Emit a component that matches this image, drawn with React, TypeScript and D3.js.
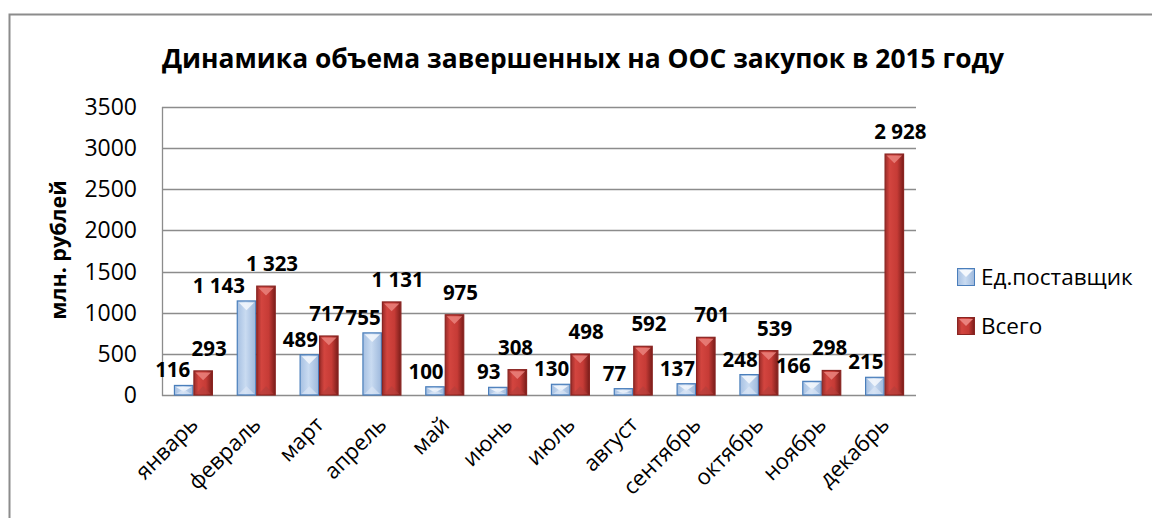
import * as d3 from 'd3';
import React, {useEffect} from 'react';

const months = ['январь', 'февраль', 'март', 'апрель', 'май', 'июнь', 'июль', 'август', 'сентябрь', 'октябрь', 'ноябрь', 'декабрь'];
const seriesNames = ['Ед.поставщик', 'Всего'];
const singleSupplier = [116, 1143, 489, 755, 100, 93, 130, 77, 137, 248, 166, 215];
const total = [293, 1323, 717, 1131, 975, 308, 498, 592, 701, 539, 298, 2928];
const yTicks = [0, 500, 1000, 1500, 2000, 2500, 3000, 3500];

const FONT = "'Open Sans', 'Noto Sans', sans-serif";

export default function App() {
  const chartRef = React.useRef<SVGSVGElement>(null);

  useEffect(() => {
    drawChart();
  }, []);

  function drawChart() {
    const svg = d3.select(chartRef.current);
    svg.selectAll('*').remove();

    const plot = {left: 162, right: 916, top: 107, bottom: 395};

    // gradients for the bevelled bars
    const defs = svg.append('defs');
    const blueGrad = defs.append('linearGradient').attr('id', 'gBlue').attr('x1', 0).attr('x2', 1).attr('y1', 0).attr('y2', 0);
    [['0%', '#a6c0e2'], ['45%', '#c9dbf1'], ['100%', '#9db8dc']].forEach(([o, c]) =>
      blueGrad.append('stop').attr('offset', o).attr('stop-color', c));
    const redGrad = defs.append('linearGradient').attr('id', 'gRed').attr('x1', 0).attr('x2', 1).attr('y1', 0).attr('y2', 0);
    [['0%', '#9a2c29'], ['25%', '#d3453f'], ['65%', '#c63b36'], ['100%', '#7a1d1a']].forEach(([o, c]) =>
      redGrad.append('stop').attr('offset', o).attr('stop-color', c));

    // outer frame
    svg.append('rect')
      .attr('x', 9.5).attr('y', 14.5)
      .attr('width', 1160).attr('height', 520)
      .attr('fill', 'white')
      .attr('stroke', '#8c8c8c')
      .attr('stroke-width', 2);

    // title
    svg.append('text')
      .attr('x', 583).attr('y', 68)
      .attr('text-anchor', 'middle')
      .style('font-family', FONT)
      .style('font-weight', 'bold')
      .style('font-size', '26.4px')
      .text('Динамика объема завершенных на ООС закупок в 2015 году');

    const y = d3.scaleLinear().domain([0, 3500]).range([plot.bottom, plot.top]);
    const x0 = d3.scaleBand().domain(months).range([plot.left, plot.right]).paddingInner(0.38).paddingOuter(0.19);
    const x1 = d3.scaleBand().domain(seriesNames).range([0, x0.bandwidth()]);

    // gridlines
    svg.append('g')
      .selectAll('line')
      .data(yTicks)
      .enter()
      .append('line')
      .attr('x1', plot.left).attr('x2', plot.right)
      .attr('y1', (d) => Math.round(y(d)) + 0.5).attr('y2', (d) => Math.round(y(d)) + 0.5)
      .attr('stroke', '#8c8c8c')
      .attr('stroke-width', 1.3);

    // y axis line
    svg.append('line')
      .attr('x1', plot.left + 0.5).attr('x2', plot.left + 0.5)
      .attr('y1', plot.top).attr('y2', plot.bottom + 1)
      .attr('stroke', '#8c8c8c').attr('stroke-width', 1.3);

    // y tick labels
    svg.append('g')
      .selectAll('text')
      .data(yTicks)
      .enter()
      .append('text')
      .attr('x', 137).attr('y', (d) => y(d) + 8)
      .attr('text-anchor', 'end')
      .style('font-family', FONT)
      .style('font-size', '23px')
      .text((d) => d);

    // y axis title
    svg.append('text')
      .attr('transform', 'translate(66,250) rotate(-90)')
      .attr('text-anchor', 'middle')
      .style('font-family', FONT)
      .style('font-weight', 'bold')
      .style('font-size', '21.5px')
      .text('млн. рублей');

    // x labels
    svg.append('g')
      .selectAll('text')
      .data(months)
      .enter()
      .append('text')
      .attr('transform', (d) => 'translate(' + (x0(d)! + x0.bandwidth() / 2 + 6) + ',' + (plot.bottom + 31) + ') rotate(-45)')
      .attr('text-anchor', 'end')
      .style('font-family', FONT)
      .style('font-size', '22px')
      .text((d) => d);

    const rows = months.map((m, i) => ({month: m, values: [singleSupplier[i], total[i]]}));
    const fmt = d3.formatLocale({decimal: ',', thousands: '\u00a0', grouping: [3], currency: ['', '']}).format(',');

    const styles = [
      {fill: 'url(#gBlue)', stroke: '#4a7ebb', bevel: '#f4f8fd', bottom: '#dde8f6', labelDx: -9, labelDy: -8},
      {fill: 'url(#gRed)', stroke: '#8a2522', bevel: '#ea827d', bottom: '#b3403c', labelDx: 6, labelDy: -15},
    ];

    const groups = svg.append('g')
      .selectAll('g')
      .data(rows)
      .enter()
      .append('g')
      .attr('transform', (d) => 'translate(' + x0(d.month) + ',0)');

    const labelLayer = svg.append('g');

    seriesNames.forEach((name, s) => {
      const st = styles[s];
      const bx = x1(name)!;
      const bw = x1.bandwidth();

      groups.append('rect')
        .attr('x', bx + 0.5)
        .attr('y', (d) => y(d.values[s]))
        .attr('width', bw - 1)
        .attr('height', (d) => plot.bottom - y(d.values[s]))
        .attr('fill', st.fill)
        .attr('stroke', st.stroke)
        .attr('stroke-width', 1.2);

      // bevel triangle at the top
      groups.append('polygon')
        .attr('points', (d) => {
          const t = y(d.values[s]);
          const h = Math.min(bw / 2 - 2, (plot.bottom - t) / 2);
          return [[bx + 2, t + 1.5], [bx + bw - 2, t + 1.5], [bx + bw / 2, t + 1.5 + h]].map((p) => p.join(',')).join(' ');
        })
        .attr('fill', st.bevel)
        .attr('opacity', 0.85);

      // bevel triangle at the bottom
      groups.append('polygon')
        .attr('points', (d) => {
          const t = y(d.values[s]);
          const h = Math.min(bw / 2 - 2, (plot.bottom - t) / 2);
          return [[bx + 2, plot.bottom - 1], [bx + bw - 2, plot.bottom - 1], [bx + bw / 2, plot.bottom - 1 - h]].map((p) => p.join(',')).join(' ');
        })
        .attr('fill', st.bottom)
        .attr('opacity', 0.6);
    });

    // value labels, ordered left to right
    const labels: {x: number, y: number, text: string}[] = [];
    rows.forEach((r) => {
      seriesNames.forEach((name, s) => {
        labels.push({
          x: x0(r.month)! + x1(name)! + x1.bandwidth() / 2 + styles[s].labelDx,
          y: y(r.values[s]) + styles[s].labelDy,
          text: fmt(r.values[s]),
        });
      });
    });
    const labelNodes = labelLayer.selectAll('text')
      .data(labels)
      .enter()
      .append('text')
      .attr('x', (d) => d.x)
      .attr('y', (d) => d.y)
      .attr('text-anchor', 'middle')
      .style('font-family', FONT)
      .style('font-weight', 'bold')
      .style('font-size', '20.5px')
      .text((d) => d.text);

    // nudge a label left if it runs into the next one at a similar height
    const nodes = labelNodes.nodes() as SVGTextElement[];
    for (let i = nodes.length - 2; i >= 0; i--) {
      const a = nodes[i].getBBox();
      const b = nodes[i + 1].getBBox();
      const close = Math.abs(labels[i].y - labels[i + 1].y) < 23;
      const overlap = a.x + a.width + 1 - b.x;
      if (close && overlap > 0) {
        labels[i].x -= overlap;
        d3.select(nodes[i]).attr('x', labels[i].x);
      }
    }

    // legend
    const legend = svg.append('g').attr('transform', 'translate(957,268)');
    seriesNames.forEach((name, s) => {
      const st = styles[s];
      const g = legend.append('g').attr('transform', 'translate(0,' + s * 49 + ')');
      g.append('rect')
        .attr('x', 0.5).attr('y', 0.5)
        .attr('width', 17).attr('height', 17)
        .attr('fill', st.fill)
        .attr('stroke', st.stroke);
      g.append('polygon')
        .attr('points', '2,2 16,2 9,9')
        .attr('fill', st.bevel);
      g.append('text')
        .attr('x', 24).attr('y', 17)
        .style('font-family', FONT)
        .style('font-size', '22.5px')
        .text(name);
    });
  }

  return (
    <div style={{position: 'absolute', left: 0, top: 0}}>
      <svg ref={chartRef} width={1152} height={518} style={{display: 'block'}}></svg>
    </div>
  );
}
